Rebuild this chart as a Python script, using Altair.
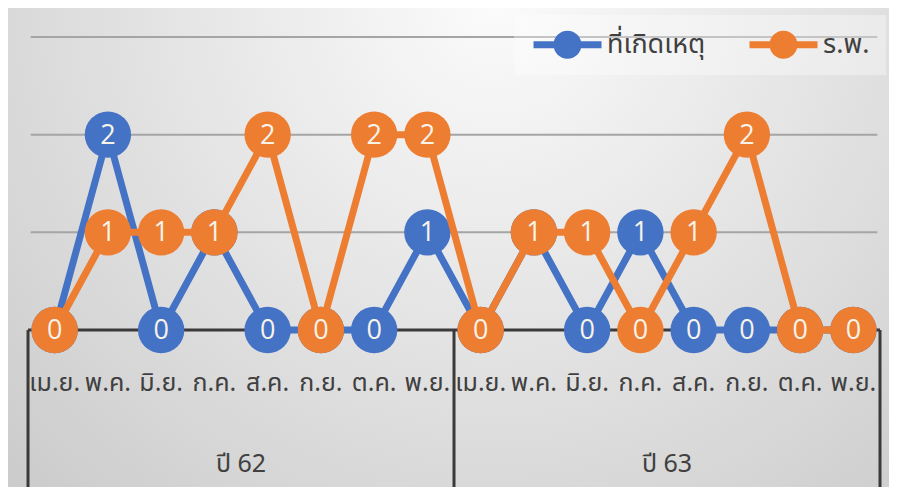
import altair as alt
import pandas as pd

months = ["เม.ย.", "พ.ค.", "มิ.ย.", "ก.ค.", "ส.ค.", "ก.ย.", "ต.ค.", "พ.ย."]
years = ["ปี 62", "ปี 63"]
series_names = ["ที่เกิดเหตุ", "ร.พ."]
scene = [0, 2, 0, 1, 0, 0, 0, 1, 0, 1, 0, 1, 0, 0, 0, 0]
hospital = [0, 1, 1, 1, 2, 0, 2, 2, 0, 1, 1, 0, 1, 2, 0, 0]
grid_levels = [1, 2, 3]
colors = ["#4472C4", "#ED7D31"]

THAI = "Noto Sans Thai, Tahoma, Leelawadee UI, Noto Sans, sans-serif"
NUM = "Liberation Sans Narrow, Open Sans, sans-serif"

W, H = 881, 479
n_m = len(months)
n = n_m * len(years)

rows = []
for s, vals in zip(series_names, [scene, hospital]):
    for i, v in enumerate(vals):
        rows.append({"idx": i, "value": v, "series": s})
df = pd.DataFrame(rows)

cat_df = pd.DataFrame({"idx": list(range(n)), "month": [months[i % n_m] for i in range(n)]})
year_df = pd.DataFrame({"idx": [(n_m - 1) / 2 + k * n_m for k in range(len(years))], "year": years})
sep_df = pd.DataFrame({"idx": [-0.5 + k * n_m for k in range(len(years) + 1)]})
grid_df = pd.DataFrame({"level": grid_levels})

xs = alt.Scale(domain=[-0.876, 15.669], nice=False, zero=False)
ys = alt.Scale(domain=[-1.607, 3.297], nice=False, zero=False)

base = alt.Chart(df)

bg = alt.Chart(pd.DataFrame({"a": [0]})).mark_rect(
    fill={"gradient": "radial", "x1": 0.55, "y1": 0.22, "r1": 0.0,
          "x2": 0.55, "y2": 0.22, "r2": 0.78,
          "stops": [{"offset": 0, "color": "#fbfbfb"}, {"offset": 1, "color": "#cbcbcb"}]}
).encode(x=alt.value(0), x2=alt.value("width"), y=alt.value(0), y2=alt.value("height"))

grid = alt.Chart(grid_df).mark_rule(color="#a5a5a5", strokeWidth=2).encode(
    y=alt.Y("level:Q", scale=ys, axis=None),
    x=alt.datum(-0.45, scale=xs, axis=None),
    x2=alt.datum(15.45),
)

zero = alt.Chart(pd.DataFrame({"a": [0]})).mark_rule(color="#3a3a3a", strokeWidth=3).encode(
    y=alt.datum(0, scale=ys),
    x=alt.datum(-0.5, scale=xs),
    x2=alt.datum(15.5),
)

seps = alt.Chart(sep_df).mark_rule(color="#3a3a3a", strokeWidth=3).encode(
    x=alt.X("idx:Q", scale=xs),
    y=alt.datum(0, scale=ys),
    y2=alt.datum(-1.8),
)

month_txt = alt.Chart(cat_df).mark_text(font=THAI, fontSize=25, color="#404040", baseline="middle").encode(
    x=alt.X("idx:Q", scale=xs),
    y=alt.datum(-0.54, scale=ys),
    text="month:N",
)

year_txt = alt.Chart(year_df).mark_text(font=THAI, fontSize=25, color="#404040", baseline="middle").encode(
    x=alt.X("idx:Q", scale=xs),
    y=alt.datum(-1.37, scale=ys),
    text="year:N",
)

legend_path = ("M-3.4,-0.35H3.4V0.35H-3.4Z "
               "M1.4,0A1.4,1.4 0 1,1 -1.4,0A1.4,1.4 0 1,1 1.4,0Z")

legend = alt.Legend(
    title=None, orient="none", legendX=506, legendY=7, direction="horizontal",
    symbolType=legend_path, symbolSize=400, symbolStrokeWidth=0, symbolOffset=24,
    symbolOpacity=1, labelOffset=26, labelFont=THAI, labelFontSize=27,
    labelColor="#404040", fillColor="rgba(255,255,255,0.35)", padding=16,
    columnPadding=40, labelLimit=300,
)
color_enc = alt.Color("series:N", scale=alt.Scale(domain=series_names, range=colors), legend=legend)

layers = [bg, grid, zero, seps, month_txt, year_txt]
for s, c in zip(series_names, colors):
    sub = base.transform_filter(alt.datum.series == s)
    line = sub.mark_line(color=c, strokeWidth=7, strokeCap="round").encode(
        x=alt.X("idx:Q", scale=xs), y=alt.Y("value:Q", scale=ys))
    pts = sub.mark_circle(size=2150, opacity=1).encode(
        x=alt.X("idx:Q", scale=xs), y=alt.Y("value:Q", scale=ys), color=color_enc)
    lab = sub.mark_text(font=NUM, fontSize=27, color="#f7f3ea", baseline="middle", dy=1).encode(
        x=alt.X("idx:Q", scale=xs), y=alt.Y("value:Q", scale=ys), text="value:Q")
    layers += [line, pts, lab]

chart = alt.layer(*layers).properties(
    width=W, height=H, autosize=alt.AutoSizeParams(type="none"), padding=0
).configure_view(stroke=None).configure(background="#ffffff")

chart.save("out.html", embed_options={"renderer": "svg", "actions": False})
